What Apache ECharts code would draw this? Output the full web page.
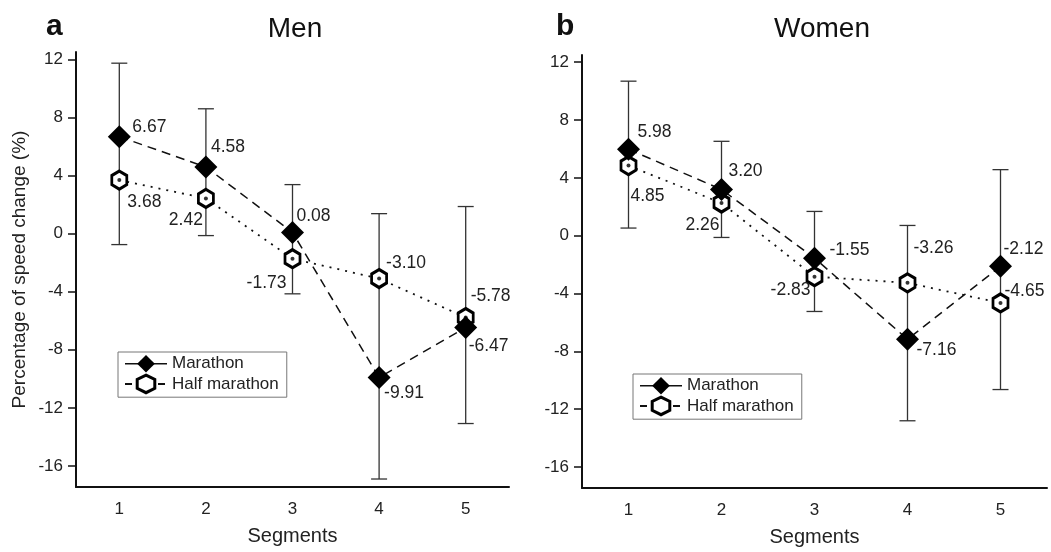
<!DOCTYPE html>
<html>
<head>
<meta charset="utf-8">
<script src="https://cdn.jsdelivr.net/npm/echarts@6/dist/echarts.min.js"></script>
<style>
  html, body { margin: 0; padding: 0; background: #fff; }
  #chart { width: 1051px; height: 552px; }
</style>
</head>
<body>
<div id="chart"></div>
<script>
// segments on the x axis
const segments = ['1', '2', '3', '4', '5']
const yTicks = [-16, -12, -8, -4, 0, 4, 8, 12]

// men
const menMarathon = [6.67, 4.58, 0.08, -9.91, -6.47]
const menHalf = [3.68, 2.42, -1.73, -3.10, -5.78]
// error bar ends (low, high) per segment
const menErrLow = [-0.76, -0.14, -4.15, -16.9, -13.08]
const menErrHigh = [11.73, 8.59, 3.37, 1.37, 1.86]

// women
const womenMarathon = [5.98, 3.20, -1.55, -7.16, -2.12]
const womenHalf = [4.85, 2.26, -2.83, -3.26, -4.65]
const womenErrLow = [0.53, -0.12, -5.24, -12.8, -10.64]
const womenErrHigh = [10.69, 6.53, 1.68, 0.71, 4.57]

// label offsets from marker centre: [dx, dy, align]
const menMarLbl = [[13, -10, 'left'], [5, -20, 'left'], [4, -16, 'left'], [5, 16, 'left'], [3, 19, 'left']]
const menHalfLbl = [[8, 22, 'left'], [-3, 22, 'right'], [-6, 24, 'right'], [7, -15, 'left'], [5, -21, 'left']]
const womenMarLbl = [[9, -17, 'left'], [7, -18, 'left'], [15, -8, 'left'], [9, 11, 'left'], [3, -17, 'left']]
const womenHalfLbl = [[2, 31, 'left'], [-2, 22, 'right'], [-4, 14, 'right'], [6, -35, 'left'], [4, -12, 'left']]

const FONT = 'Liberation Sans, Arial, sans-serif'
const hexagon = 'path://M0,-10L8.66,-5L8.66,5L0,10L-8.66,5L-8.66,-5Z'

function withLabels(values, offs) {
  return values.map((v, i) => ({
    value: v,
    label: {
      show: true,
      position: 'inside',
      offset: [offs[i][0], offs[i][1]],
      align: offs[i][2],
      verticalAlign: 'middle',
      formatter: v.toFixed(2),
      color: '#222',
      fontSize: 17.5,
      fontFamily: FONT,
    },
  }))
}

function errData(lo, hi) {
  return lo.map((l, i) => [i, l, hi[i]])
}

function renderErr(params, api) {
  const x = api.value(0)
  const top = api.coord([x, api.value(2)])
  const bot = api.coord([x, api.value(1)])
  const w = 8
  const st = { stroke: '#333', lineWidth: 1.3 }
  return {
    type: 'group',
    children: [
      { type: 'line', shape: { x1: top[0], y1: top[1], x2: bot[0], y2: bot[1] }, style: st },
      { type: 'line', shape: { x1: top[0] - w, y1: top[1], x2: top[0] + w, y2: top[1] }, style: st },
      { type: 'line', shape: { x1: bot[0] - w, y1: bot[1], x2: bot[0] + w, y2: bot[1] }, style: st },
    ],
  }
}

function xAxisCfg(idx) {
  return {
    type: 'category',
    gridIndex: idx,
    data: segments,
    boundaryGap: true,
    name: 'Segments',
    nameLocation: 'middle',
    nameGap: 39,
    nameTextStyle: { fontSize: 20, color: '#222', fontFamily: FONT },
    axisLine: { onZero: false, lineStyle: { color: '#111', width: 2 } },
    axisTick: { alignWithLabel: true, length: 8, lineStyle: { color: '#111', width: 1.5 } },
    axisLabel: { fontSize: 17, color: '#222', margin: 14, fontFamily: FONT },
    splitLine: { show: false },
  }
}

function yAxisCfg(idx, name) {
  return {
    type: 'value',
    gridIndex: idx,
    min: -17.45,
    max: 12.5,
    name: name,
    nameLocation: 'middle',
    nameGap: 47,
    nameTextStyle: { fontSize: 19, color: '#222', fontFamily: FONT },
    axisLine: { show: true, onZero: false, lineStyle: { color: '#111', width: 2 } },
    axisTick: { show: true, customValues: yTicks, length: 8, lineStyle: { color: '#111', width: 1.5 } },
    axisLabel: { customValues: yTicks, fontSize: 17, color: '#222', margin: 13, fontFamily: FONT },
    splitLine: { show: false },
  }
}

function panelSeries(idx, mar, half, marLbl, halfLbl, lo, hi) {
  return [
    {
      type: 'custom',
      xAxisIndex: idx,
      yAxisIndex: idx,
      renderItem: renderErr,
      data: errData(lo, hi),
      encode: { x: 0, y: [1, 2] },
      silent: true,
      z: 1,
    },
    {
      name: 'Marathon',
      type: 'line',
      xAxisIndex: idx,
      yAxisIndex: idx,
      data: withLabels(mar, marLbl),
      symbol: 'diamond',
      symbolSize: 23,
      showAllSymbol: true,
      itemStyle: { color: '#000' },
      lineStyle: { color: '#111', width: 1.5, type: [9, 6] },
      z: 3,
    },
    {
      name: 'Half marathon',
      type: 'line',
      xAxisIndex: idx,
      yAxisIndex: idx,
      data: withLabels(half, halfLbl),
      symbol: hexagon,
      symbolSize: [15, 18],
      showAllSymbol: true,
      itemStyle: { color: '#fff', borderColor: '#000', borderWidth: 3 },
      lineStyle: { color: '#111', width: 1.8, type: [2, 6] },
      z: 2,
    },
    {
      name: 'dot',
      type: 'scatter',
      xAxisIndex: idx,
      yAxisIndex: idx,
      data: half,
      symbol: 'circle',
      symbolSize: 4,
      itemStyle: { color: '#000' },
      silent: true,
      z: 4,
    },
  ]
}

function legendCfg(left, top) {
  return {
    data: [
      { name: 'Marathon', lineStyle: { type: 'solid', width: 1.5, color: '#111' } },
      {
        name: 'Half marathon',
        itemStyle: { color: '#fff', borderColor: '#000', borderWidth: 3 },
        lineStyle: { type: [7, 26], width: 2, color: '#111' },
      },
    ],
    orient: 'vertical',
    left: left,
    top: top,
    itemWidth: 42,
    itemHeight: 22,
    itemGap: 1,
    padding: [3, 8, 3, 6],
    borderColor: '#777',
    borderWidth: 1,
    selectedMode: false,
    textStyle: { fontSize: 17, color: '#222', fontFamily: FONT },
  }
}

const chart = echarts.init(document.getElementById('chart'), null, { renderer: 'canvas' })
chart.setOption({
  animation: false,
  backgroundColor: '#fff',
  title: [
    { text: 'Men', left: 290, top: 10, textAlign: 'center', textStyle: { fontSize: 28, fontWeight: 'normal', color: '#111', fontFamily: FONT } },
    { text: 'Women', left: 817, top: 10, textAlign: 'center', textStyle: { fontSize: 28, fontWeight: 'normal', color: '#111', fontFamily: FONT } },
    { text: 'a', left: 41, top: 7, textStyle: { fontSize: 30, fontWeight: 'bold', color: '#111', fontFamily: FONT } },
    { text: 'b', left: 551, top: 7, textStyle: { fontSize: 30, fontWeight: 'bold', color: '#111', fontFamily: FONT } },
  ],
  legend: [legendCfg(118, 352), legendCfg(633, 374)],
  grid: [
    { left: 76, right: 542, top: 52, bottom: 65 },
    { left: 582, right: 4, top: 55, bottom: 63 },
  ],
  xAxis: [xAxisCfg(0), xAxisCfg(1)],
  yAxis: [yAxisCfg(0, 'Percentage of speed change (%)'), yAxisCfg(1, '')],
  series: [
    ...panelSeries(0, menMarathon, menHalf, menMarLbl, menHalfLbl, menErrLow, menErrHigh),
    ...panelSeries(1, womenMarathon, womenHalf, womenMarLbl, womenHalfLbl, womenErrLow, womenErrHigh),
  ],
})
</script>
</body>
</html>
